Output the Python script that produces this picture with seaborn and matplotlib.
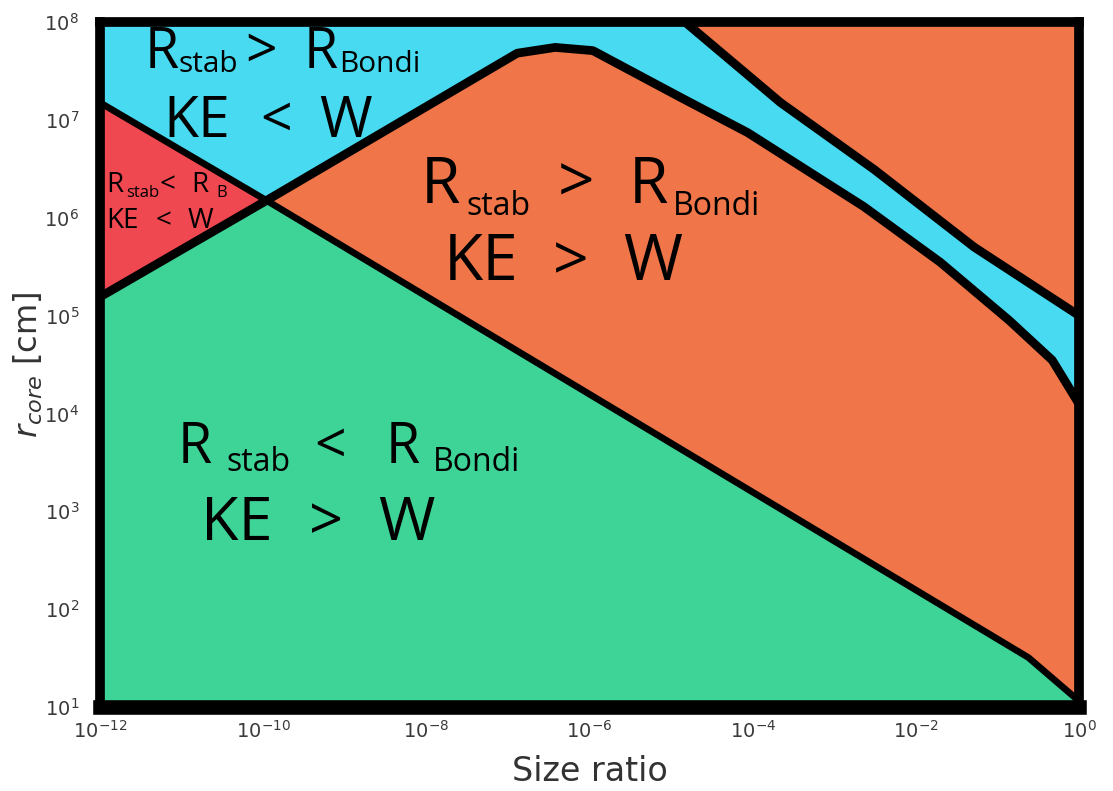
import numpy as np
import matplotlib
matplotlib.use("Agg")
import matplotlib.pyplot as plt
import seaborn as sns

# Regime boundaries in the (size ratio, core radius) plane
# R_stab = R_Bondi boundary
bondi_x = [1e-12, 1.1e-10, 2.4e-1, 1.0]
bondi_r = [1.5e7, 1.5e6, 3.2e1, 1.15e1]

# KE = W boundary
kew_x = [1e-12, 1.1e-10, 1.3e-7, 3.8e-7, 1.1e-6, 1.3e-5, 8.7e-5,
         2.3e-3, 2.0e-2, 1.4e-1, 4.7e-1, 1.0]
kew_r = [1.55e5, 1.5e6, 4.8e7, 5.5e7, 5.1e7, 1.7e7, 7.4e6,
         1.3e6, 3.5e5, 8.9e4, 3.5e4, 1.25e4]

# upper boundary of the KE < W band
upper_x = [1.26e-5, 2.2e-4, 3.1e-3, 5.2e-2, 1.0]
upper_r = [1.12e8, 1.5e7, 3.1e6, 5.0e5, 1.0e5]

x_ticks = [1e-12, 1e-10, 1e-8, 1e-6, 1e-4, 1e-2, 1e0]
y_ticks = [1e1, 1e2, 1e3, 1e4, 1e5, 1e6, 1e7, 1e8]

C_BLUE = "#48DAF0"
C_ORANGE = "#F07548"
C_RED = "#F04850"
C_GREEN = "#3ED498"

sns.set_style("white")
plt.rcParams["font.family"] = ["DejaVu Sans"]
plt.rcParams["mathtext.fontset"] = "dejavusans"

W, H = 1113, 791
fig = plt.figure(figsize=(W / 100, H / 100), dpi=100)
ax = fig.add_axes([100 / W, 1 - 707 / H, (1079 - 100) / W, (707 - 22) / H])
ax.set_xscale("log")
ax.set_yscale("log")
ax.set_xlim(1e-12, 1e0)
ax.set_ylim(1e1, 1e8)

bx, by = np.array(bondi_x), np.array(bondi_r)
kx, ky = np.array(kew_x), np.array(kew_r)
ux, uy = np.array(upper_x), np.array(upper_r)
xc = bondi_x[1]  # crossing of the two main boundaries
lo, hi = 1.0, 1e9

bl, br = bx <= xc, bx >= xc
kl, kr = kx <= xc, kx >= xc

# green: below both boundaries
gx = np.concatenate([kx[kl], bx[br][1:], [1.0, 1e-12]])
gy = np.concatenate([ky[kl], by[br][1:], [lo, lo]])
ax.fill(gx, gy, color=C_GREEN, lw=0, zorder=1)

# red: between the boundaries, left of the crossing
rx = np.concatenate([bx[bl], kx[kl][::-1]])
ry = np.concatenate([by[bl], ky[kl][::-1]])
ax.fill(rx, ry, color=C_RED, lw=0, zorder=1)

# orange: between the boundaries, right of the crossing
ox = np.concatenate([kx[kr], bx[br][::-1]])
oy = np.concatenate([ky[kr], by[br][::-1]])
ax.fill(ox, oy, color=C_ORANGE, lw=0, zorder=1)

# blue: above both boundaries and below the upper boundary
cx = np.concatenate([bx[bl], kx[kr][1:], ux[::-1], [ux[0], 1e-12]])
cy = np.concatenate([by[bl], ky[kr][1:], uy[::-1], [hi, hi]])
ax.fill(cx, cy, color=C_BLUE, lw=0, zorder=1)

# orange: above the upper boundary
tx = np.concatenate([ux, [1.0, ux[0]]])
ty = np.concatenate([uy, [hi, hi]])
ax.fill(tx, ty, color=C_ORANGE, lw=0, zorder=1)

line_kw = dict(color="black", estimator=None, sort=False,
               solid_joinstyle="round", solid_capstyle="round", zorder=2)
sns.lineplot(x=bx, y=by, ax=ax, linewidth=4.8, **line_kw)
sns.lineplot(x=kx, y=ky, ax=ax, linewidth=6.3, **line_kw)
sns.lineplot(x=ux, y=uy, ax=ax, linewidth=6.3, **line_kw)

ax.set_xticks(x_ticks)
ax.set_yticks(y_ticks)
ax.minorticks_off()
ax.tick_params(axis="both", length=0, labelsize=14, labelcolor="#3a3a3a")
ax.tick_params(axis="y", pad=15)
ax.tick_params(axis="x", pad=9)
ax.grid(False)

for name, sp in ax.spines.items():
    sp.set_visible(True)
    sp.set_color("black")
    sp.set_linewidth(10.5 if name == "bottom" else 7)
    sp.set_capstyle("projecting")
    sp.set_zorder(4)

ax.set_xlabel("Size ratio", fontsize=24, color="#333333")
ax.set_ylabel(r"$r_{core}$ [cm]", fontsize=23, color="#333333")
ax.xaxis.set_label_coords(0.5, -0.07)
ax.yaxis.set_label_coords(-0.056, 0.5)


def place(pieces, baseline):
    """Draw a label made of pieces (text, left px, size, baseline shift px)."""
    for s, x_px, size, dy in pieces:
        fig.text(x_px / W, 1 - (baseline + dy) / H, s, fontsize=size,
                 family="Open Sans", ha="left", va="baseline",
                 color="black", zorder=5)


# upper-left region
place([("R", 145, 40, 0), ("stab", 179, 21.5, 4), (">", 245, 40, 0),
       ("R", 304, 40, 0), ("Bondi", 339, 21.5, 4)], 68)
place([("KE", 163, 41, 0), ("<", 260, 40, 0), ("W", 319, 41, 0)], 137)

# central region
place([("R", 421, 46, 0), ("stab", 466, 23, 12), (">", 558, 46, 0),
       ("R", 629, 46, 0), ("Bondi", 673, 23, 12)], 203)
place([("KE", 444, 46, 0), (">", 553, 45, 0), ("W", 623, 46, 0)], 280)

# lower region
place([("R", 178, 40, 0), ("stab", 226, 23, 8), ("<", 314, 40, 0),
       ("R", 386, 40, 0), ("Bondi", 433, 23, 8)], 463)
place([("KE", 201, 44, 0), (">", 309, 43, 0), ("W", 378, 44, 0)], 540)

# small left region
place([("R", 106, 20, 0), ("stab", 126, 12, 5), ("<", 160, 20, 0),
       ("R", 191, 20, 0), ("B", 216, 12, 5)], 192)
place([("KE", 106, 20, 0), ("<", 156, 20, 0), ("W", 188, 20, 0)], 228)

fig.savefig("out.png", dpi=100)
